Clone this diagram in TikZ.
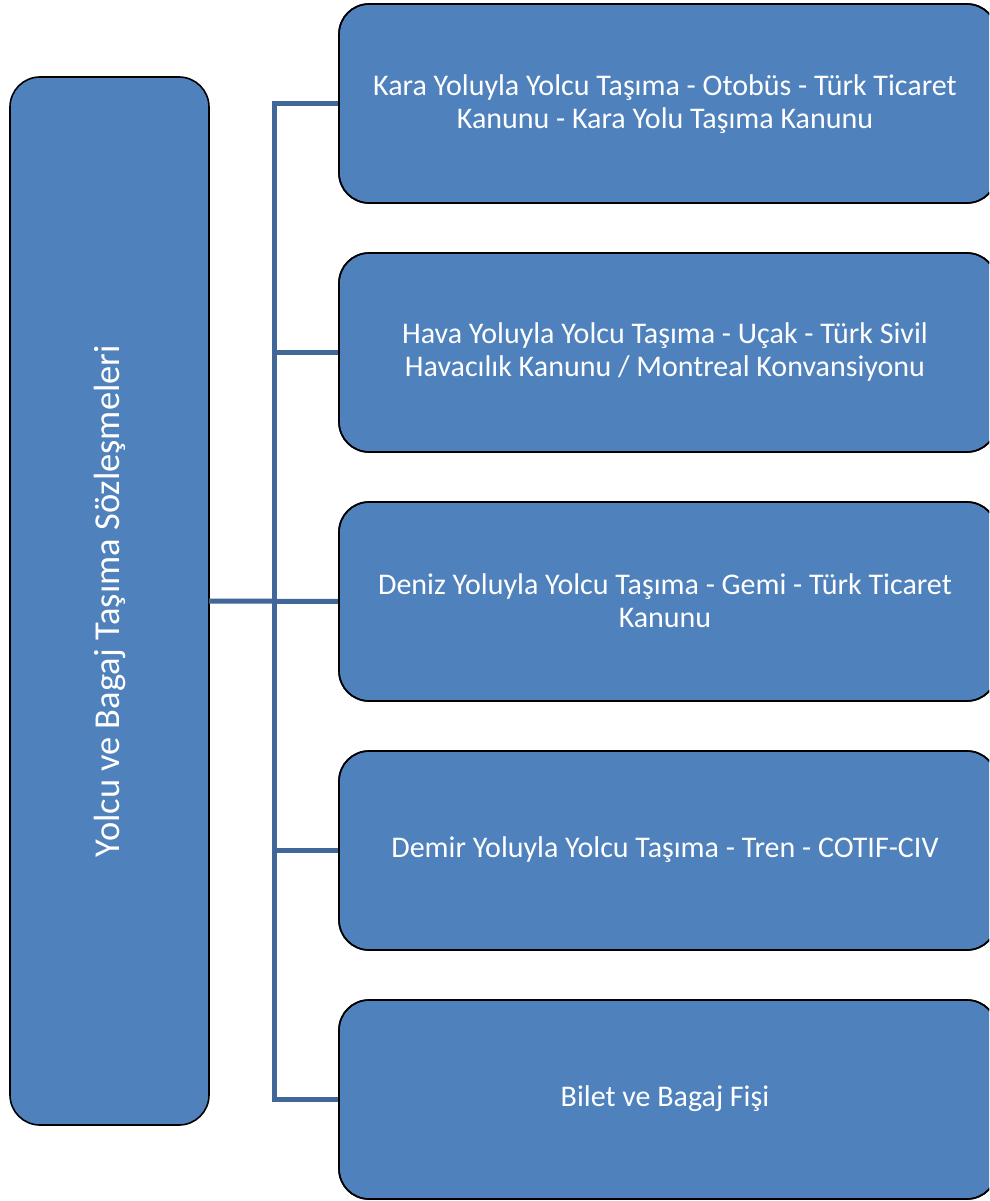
\documentclass[tikz,border=0pt]{standalone}
\usepackage{fontspec}
\setmainfont{Carlito}
\definecolor{boxblue}{RGB}{79,129,189}
\definecolor{linkblue}{RGB}{64,103,152}
\tikzset{
  boxstyle/.style={draw=black, line width=1.6pt, fill=boxblue, rounded corners=30pt},
  link/.style={draw=linkblue, line width=5pt},
  label/.style={text=white, font=\fontsize{30}{33}\selectfont, align=center},
}
\begin{document}
\begin{tikzpicture}[x=1pt, y=-1pt]
  \useasboundingbox (0,0) rectangle (989,1201);
  \begin{scope}
    \clip (0,0) rectangle (989,1201);
    % root box
    \draw[boxstyle] (10,77) rectangle (209,1125);
    \node[text=white, rotate=90, font=\fontsize{36.5}{40}\selectfont] (root) at (109.5,601) {Yolcu ve Bagaj Taşıma Sözleşmeleri};
    \coordinate (rootR) at (209,601);
    % child boxes
    \foreach \i/\yt in {1/4, 2/253, 3/502, 4/751, 5/1000} {
      \draw[boxstyle] (339,\yt) rectangle (997,\yt+199);
      \coordinate (c\i) at (339,\yt+99.5);
    }
    \node[label] (t1) at (665,104) {Kara Yoluyla Yolcu Taşıma - Otobüs - Türk Ticaret\\Kanunu - Kara Yolu Taşıma Kanunu};
    \node[label] (t2) at (665,352) {Hava Yoluyla Yolcu Taşıma - Uçak - Türk Sivil\\Havacılık Kanunu / Montreal Konvansiyonu};
    \node[label] (t3) at (665,601) {Deniz Yoluyla Yolcu Taşıma - Gemi - Türk Ticaret\\Kanunu};
    \node[label] (t4) at (665,850) {Demir Yoluyla Yolcu Taşıma - Tren - COTIF-CIV};
    \node[label] (t5) at (665,1099) {Bilet ve Bagaj Fişi};
  \end{scope}
  % connectors
  \coordinate (trunk) at (274,601);
  \draw[link] (rootR) -- (c3);
  \draw[link] (c1) -| (trunk) |- (c5);
  \draw[link] (trunk |- c2) -- (c2);
  \draw[link] (trunk |- c4) -- (c4);
  % child borders drawn again over the link ends
  \begin{scope}
    \clip (0,0) rectangle (989,1201);
    \foreach \yt in {4, 253, 502, 751, 1000} {
      \draw[draw=black, line width=1.6pt, rounded corners=30pt] (339,\yt) rectangle (997,\yt+199);
    }
  \end{scope}
\end{tikzpicture}
\end{document}
